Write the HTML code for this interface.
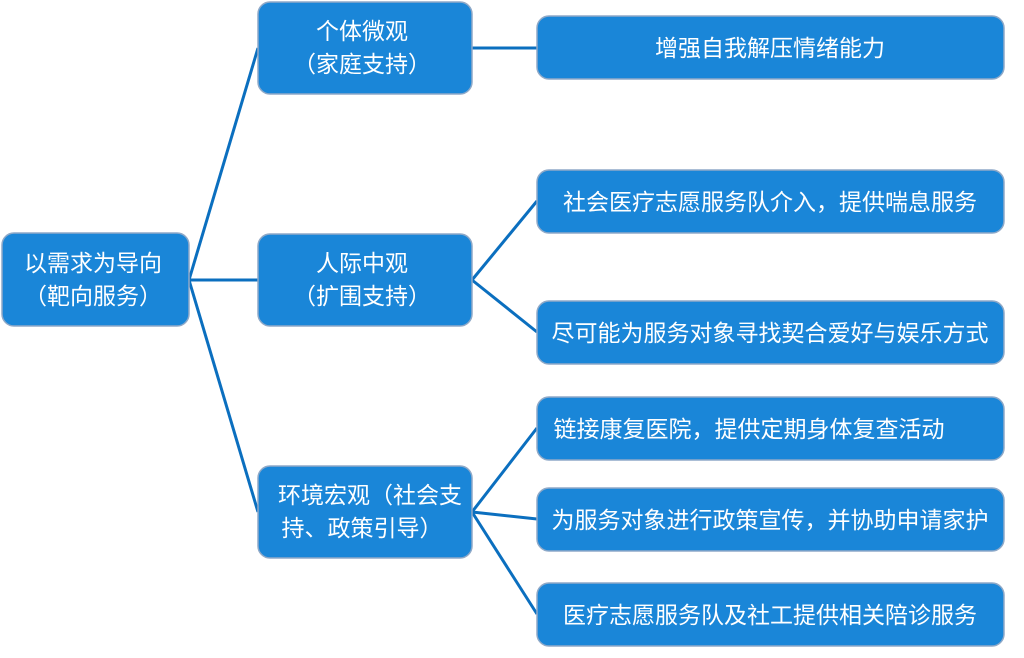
<!DOCTYPE html>
<html><head><meta charset="utf-8"><style>
html,body{margin:0;padding:0;background:#fff;width:1024px;height:658px;overflow:hidden}
svg text{font-family:"Liberation Sans","Noto Sans CJK SC",sans-serif;fill:#fff;font-size:23px;text-anchor:middle}
</style></head><body>
<svg width="1024" height="658" viewBox="0 0 1024 658" xmlns="http://www.w3.org/2000/svg">
<g stroke="#0b6fbf" stroke-width="3" fill="none">
<line x1="189" y1="280" x2="258" y2="48"/>
<line x1="189" y1="280" x2="258" y2="280"/>
<line x1="189" y1="280" x2="258" y2="512"/>
<line x1="472" y1="48" x2="537" y2="48"/>
<line x1="472" y1="280" x2="537" y2="201"/>
<line x1="472" y1="280" x2="537" y2="332"/>
<line x1="472" y1="512" x2="537" y2="428"/>
<line x1="472" y1="512" x2="537" y2="519"/>
<line x1="472" y1="512" x2="537" y2="614"/>
</g>
<g fill="#1a86d8" stroke="#8fa9c8" stroke-width="1.5">
<rect x="2" y="233" width="187" height="93" rx="12"/>
<rect x="258" y="2" width="214" height="92" rx="12"/>
<rect x="258" y="234" width="214" height="92" rx="12"/>
<rect x="258" y="466" width="214" height="92" rx="12"/>
<rect x="537" y="16" width="467" height="63" rx="12"/>
<rect x="537" y="170" width="467" height="63" rx="12"/>
<rect x="537" y="301" width="467" height="63" rx="12"/>
<rect x="537" y="397" width="467" height="63" rx="12"/>
<rect x="537" y="488" width="467" height="63" rx="12"/>
<rect x="537" y="583" width="467" height="63" rx="12"/>
</g>
<text x="93" y="271">以需求为导向</text>
<text x="93" y="304">（靶向服务）</text>
<text x="362" y="39">个体微观</text>
<text x="362" y="72">（家庭支持）</text>
<text x="362" y="271">人际中观</text>
<text x="362" y="304">（扩围支持）</text>
<text x="370" y="503">环境宏观（社会支</text>
<text x="362" y="536">持、政策引导）</text>
<text x="770" y="56">增强自我解压情绪能力</text>
<text x="770" y="210">社会医疗志愿服务队介入，提供喘息服务</text>
<text x="770" y="341">尽可能为服务对象寻找契合爱好与娱乐方式</text>
<text x="749" y="437">链接康复医院，提供定期身体复查活动</text>
<text x="770" y="528">为服务对象进行政策宣传，并协助申请家护</text>
<text x="770" y="623">医疗志愿服务队及社工提供相关陪诊服务</text>
</svg>
</body></html>
